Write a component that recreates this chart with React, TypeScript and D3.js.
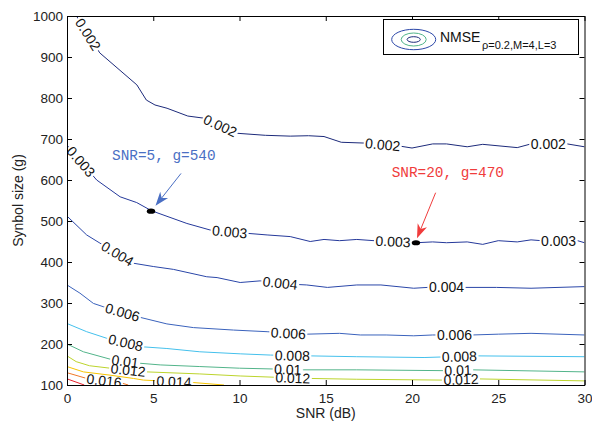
import React, { useEffect, useRef } from 'react';
import * as d3 from 'd3';

const width = 592;
const height = 423;
const plot = { left: 67, right: 584.5, top: 16, bottom: 385 };
const font = "'Liberation Sans', Arial, Helvetica, sans-serif";
const mono = "'Liberation Mono', 'DejaVu Sans Mono', monospace";

// axis ticks
const xTicks = [0, 5, 10, 15, 20, 25, 30];
const yTicks = [100, 200, 300, 400, 500, 600, 700, 800, 900, 1000];

// contour lines: SNR (dB) vs symbol size g
const snr002 = [0.55, 1.9, 4.05, 4.6, 5.1, 5.8, 7.0, 7.9, 9.85, 11.5, 12.94, 14.0, 14.9, 15.9, 17.3, 19.4, 20.0, 21.2, 22.0, 23.2, 24.1, 26.1, 26.9, 29.0, 30];
const g002 = [1000, 910, 832, 795, 783, 775, 756, 751, 714, 709, 707, 708, 706, 692, 690, 682, 678, 688, 688, 681, 687, 679, 688, 688, 681];
const snr003 = [0, 1.72, 3.08, 4.04, 4.9, 6.95, 8.3, 10.43, 11.6, 12.94, 14.1, 14.9, 15.8, 16.8, 17.8, 19.0, 20.25, 21.2, 22.0, 23.2, 24.1, 25.0, 26.1, 26.9, 27.5, 29.6, 30];
const g003 = [685, 600, 559, 545, 525, 494, 478, 470, 466, 462, 450, 455, 452, 455, 452, 450, 447, 449, 447, 449, 443, 452, 449, 454, 452, 452, 447];
const snr004 = [0, 1.14, 1.91, 3.85, 5.0, 6.17, 8.1, 8.7, 10.04, 11.2, 12.94, 13.9, 15.1, 16.8, 18.2, 20.1, 20.9, 23.1, 24.0, 24.9, 26.9, 30];
const g004 = [512, 466, 446, 397, 389, 382, 364, 362, 350, 354, 346, 344, 338, 344, 344, 336, 338, 338, 338, 338, 336, 340];
const snr006 = [0, 0.75, 1.53, 2.1, 4.24, 5.79, 7.33, 9.65, 11.6, 12.94, 13.9, 15.8, 17.0, 18.5, 20.1, 21.2, 23.5, 25.0, 26.9, 30];
const g006 = [344, 324, 299, 291, 265, 249, 240, 234, 230, 226, 224, 226, 222, 222, 220, 222, 222, 224, 226, 222];
const snr008 = [0, 1.14, 2.3, 4.43, 5.79, 7.7, 10.04, 11.8, 14.1, 16.8, 20.7, 23.8, 30];
const g008 = [250, 230, 214, 193, 189, 181, 176, 173, 171, 169, 167, 171, 169];
const snr010 = [0, 0.95, 2.5, 4.24, 5.4, 7.7, 10.0, 12.0, 13.7, 16.8, 21.8, 23.5, 30];
const g010 = [200, 181, 163, 153, 149, 145, 141, 139, 137, 137, 135, 137, 132];
const snr012 = [0, 0.53, 1.3, 2.5, 4.62, 7.7, 10.04, 12.0, 14.1, 16.8, 21.7, 23.7, 30];
const g012 = [171, 157, 147, 141, 132, 127, 122, 119, 116, 114, 112, 115, 110];
const snr014 = [0, 0.95, 2.5, 3.85, 4.43, 7.33, 9.1];
const g014 = [145, 132, 124, 116, 112, 106, 100];
const snr016 = [0, 1.14, 3.07, 3.55];
const g016 = [130, 116, 106, 100];
const snr018 = [0, 1.0];
const g018 = [115, 100];

// where clabel put the inline labels (SNR position along each line)
const lab002 = [1.22, 8.88, 18.3, 27.9];
const lab003 = [0.81, 9.43, 18.9, 28.5];
const lab004 = [2.93, 12.36, 22.0];
const lab006 = [3.22, 12.83, 22.46];
const lab008 = [3.4, 13.06, 22.75];
const lab010 = [3.37, 12.8, 22.67];
const lab012 = [3.54, 13.09, 22.84];
const lab014 = [6.2];
const lab016 = [2.15];

// the two annotated points
const markSnr = [4.87, 20.23];
const markG = [524, 447];
const noteText = ['SNR=5, g=540', 'SNR=20, g=470'];
const noteSnr = [2.61, 18.82];
const noteG = [648, 607];
const arrowFromSnr = [6.61, 21.37];
const arrowFromG = [616, 569];
const arrowToSnr = [5.13, 20.29];
const arrowToG = [537, 458];
const noteColors = ['#4a6fc4', '#f03c3c'];

const contours = [
  { level: '0.002', snr: snr002, g: g002, labels: lab002, color: '#1c2a7a' },
  { level: '0.003', snr: snr003, g: g003, labels: lab003, color: '#24389a' },
  { level: '0.004', snr: snr004, g: g004, labels: lab004, color: '#2a46a8' },
  { level: '0.006', snr: snr006, g: g006, labels: lab006, color: '#3a62bc' },
  { level: '0.008', snr: snr008, g: g008, labels: lab008, color: '#44c0ec' },
  { level: '0.01', snr: snr010, g: g010, labels: lab010, color: '#52b48a' },
  { level: '0.012', snr: snr012, g: g012, labels: lab012, color: '#bcd42c' },
  { level: '0.014', snr: snr014, g: g014, labels: lab014, color: '#f6c400' },
  { level: '0.016', snr: snr016, g: g016, labels: lab016, color: '#f07828' },
  { level: '0.018', snr: snr018, g: g018, labels: [], color: '#e6202a' },
];

const x = d3.scaleLinear().domain([0, 30]).range([plot.left, plot.right]);
const y = d3.scaleLinear().domain([100, 1000]).range([plot.bottom, plot.top]);

const labelSize = 14;
const textW = (s: string) =>
  s.split('').reduce((a, c) => a + (c === '.' ? 0.278 : 0.556), 0) * labelSize;

function placeLabels(c: typeof contours[number]) {
  const interp = d3.scaleLinear().domain(c.snr).range(c.g).clamp(true);
  return c.labels.map(s => {
    const px = x(s), py = y(interp(s));
    const x0 = x(s - 0.5), y0 = y(interp(s - 0.5));
    const x1 = x(s + 0.5), y1 = y(interp(s + 0.5));
    const angle = (Math.atan2(y1 - y0, x1 - x0) * 180) / Math.PI;
    return { px, py, angle, w: textW(c.level) };
  });
}

function arrowHead(x0: number, y0: number, x1: number, y1: number) {
  const a = Math.atan2(y1 - y0, x1 - x0);
  const len = 14, half = 5, notch = 10;
  const p = (d: number, s: number) =>
    [x1 - d * Math.cos(a) - s * Math.sin(a), y1 - d * Math.sin(a) + s * Math.cos(a)];
  const pts = [[x1, y1], p(len, half), p(notch, 0), p(len, -half)];
  return pts.map(q => q.join(',')).join(' ');
}

export default function App() {
  const xAxisRef = useRef<SVGGElement>(null);
  const yAxisRef = useRef<SVGGElement>(null);
  const topRef = useRef<SVGGElement>(null);
  const rightRef = useRef<SVGGElement>(null);

  useEffect(() => {
    const style = (sel: any) => {
      sel.attr('font-family', font).attr('font-size', 13.5);
      sel.select('.domain').attr('stroke', '#000').attr('stroke-width', 1);
      sel.selectAll('.tick line').attr('stroke', '#000');
      sel.selectAll('.tick text').attr('fill', '#222');
    };
    d3.select(xAxisRef.current)
      .call(d3.axisBottom(x).tickValues(xTicks).tickFormat(d3.format('d')).tickSizeInner(-5).tickSizeOuter(0).tickPadding(8) as any)
      .call(style);
    d3.select(yAxisRef.current)
      .call(d3.axisLeft(y).tickValues(yTicks).tickFormat(d3.format('d')).tickSizeInner(-5).tickSizeOuter(0).tickPadding(4) as any)
      .call(style);
    d3.select(topRef.current)
      .call(d3.axisTop(x).tickValues(xTicks).tickSizeInner(-5).tickSizeOuter(0).tickFormat(() => '') as any)
      .call(style);
    d3.select(rightRef.current)
      .call(d3.axisRight(y).tickValues(yTicks).tickSizeInner(-5).tickSizeOuter(0).tickFormat(() => '') as any)
      .call(style);
  }, []);

  const line = d3.line<number>();
  const placed = contours.map(placeLabels);

  return (
    <svg width={width} height={height} style={{ position: 'absolute', left: 0, top: 0, background: '#fff' }}>
      <defs>
        <clipPath id="plotClip">
          <rect x={plot.left} y={plot.top} width={plot.right - plot.left} height={plot.bottom - plot.top} />
        </clipPath>
        {contours.map((c, i) => (
          <mask id={`m${i}`} key={c.level} maskUnits="userSpaceOnUse" x={0} y={0} width={width} height={height}>
            <rect x={0} y={0} width={width} height={height} fill="white" />
            {placed[i].map((l, j) => (
              <rect key={j} x={-l.w / 2 - 1.5} y={-5.5} width={l.w + 3} height={11} fill="black"
                transform={`translate(${l.px},${l.py}) rotate(${l.angle})`} />
            ))}
          </mask>
        ))}
      </defs>

      <g clipPath="url(#plotClip)">
        {contours.map((c, i) => (
          <path key={c.level} mask={`url(#m${i})`} fill="none" stroke={c.color} strokeWidth={1}
            d={line(c.snr.map((s, k) => [x(s), y(c.g[k])]) as any) || ''} />
        ))}
        {contours.map((c, i) => placed[i].map((l, j) => (
          <text key={`${c.level}-${j}`} transform={`translate(${l.px},${l.py}) rotate(${l.angle})`}
            textAnchor="middle" dy="0.36em" fontFamily={font} fontSize={labelSize} fill="#111">
            {c.level}
          </text>
        )))}
      </g>

      {/* annotations */}
      {noteText.map((t, i) => {
        const fx = x(arrowFromSnr[i]), fy = y(arrowFromG[i]);
        const tx = x(arrowToSnr[i]), ty = y(arrowToG[i]);
        const a = Math.atan2(ty - fy, tx - fx);
        return (
          <g key={t}>
            <line x1={fx} y1={fy} x2={tx - 9 * Math.cos(a)} y2={ty - 9 * Math.sin(a)} stroke={noteColors[i]} strokeWidth={1} />
            <polygon points={arrowHead(fx, fy, tx, ty)} fill={noteColors[i]} />
            <ellipse cx={x(markSnr[i])} cy={y(markG[i])} rx={4.2} ry={2.6} fill="#000" />
            <text x={x(noteSnr[i])} y={y(noteG[i])} fontFamily={mono} fontSize={14.4} fill={noteColors[i]}>{t}</text>
          </g>
        );
      })}

      <g ref={xAxisRef} transform={`translate(0,${plot.bottom})`} />
      <g ref={yAxisRef} transform={`translate(${plot.left},0)`} />
      <g ref={topRef} transform={`translate(0,${plot.top})`} />
      <g ref={rightRef} transform={`translate(${plot.right},0)`} />

      {/* legend */}
      <g>
        <rect x={383.5} y={19.5} width={195} height={35} fill="#fff" stroke="#000" strokeWidth={1} />
        <ellipse cx={413.7} cy={39.5} rx={22} ry={10.2} fill="none" stroke="#2a46a8" />
        <ellipse cx={413.7} cy={39.5} rx={12.5} ry={6.5} fill="none" stroke="#52b48a" />
        <ellipse cx={413.7} cy={39.5} rx={6.6} ry={2.8} fill="none" stroke="#1c2a7a" />
        <text x={440} y={42} fontFamily={font} fontSize={14} fill="#111">
          NMSE
          <tspan x={482} y={49} fontSize={11}>ρ=0.2,M=4,L=3</tspan>
        </text>
      </g>

      <text x={(plot.left + plot.right) / 2} y={418} textAnchor="middle" fontFamily={font} fontSize={14} fill="#222">SNR (dB)</text>
      <text transform={`translate(23,${(plot.top + plot.bottom) / 2}) rotate(-90)`} textAnchor="middle"
        fontFamily={font} fontSize={14} fill="#222">Synbol size (g)</text>
    </svg>
  );
}
